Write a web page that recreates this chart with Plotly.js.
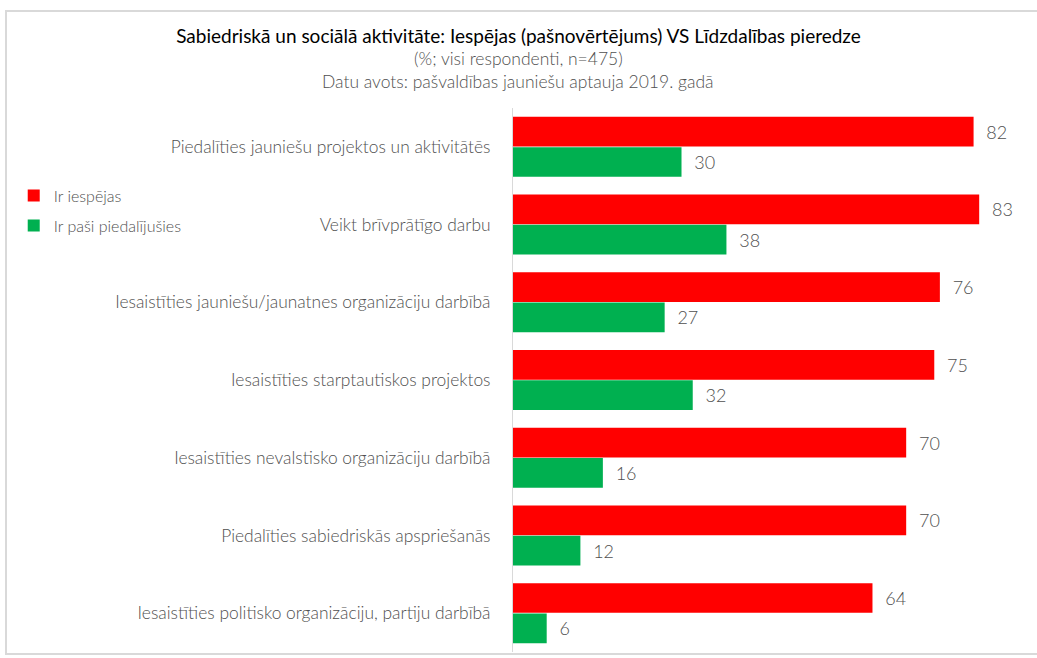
<!DOCTYPE html>
<html>
<head>
<meta charset="utf-8">
<script src="https://cdn.plot.ly/plotly-3.0.1.min.js"></script>
<style>
html,body{margin:0;padding:0;background:#fff;}
#frame{position:absolute;left:5px;top:10px;width:1040px;height:641px;border:2px solid #d9d9d9;box-sizing:content-box;pointer-events:none;z-index:10;}
#chart{position:absolute;left:0;top:0;width:1037px;height:658px;}
</style>
</head>
<body>
<div id="chart"></div>
<div id="frame"></div>
<script>
const categories = [
  "Piedalīties jauniešu projektos un aktivitātēs",
  "Veikt brīvprātīgo darbu",
  "Iesaistīties jauniešu/jaunatnes organizāciju darbībā",
  "Iesaistīties starptautiskos projektos",
  "Iesaistīties nevalstisko organizāciju darbībā",
  "Piedalīties sabiedriskās apspriešanās",
  "Iesaistīties politisko organizāciju, partiju darbībā"
];
const seriesNames = ["Ir iespējas", "Ir paši piedalījušies"];
const irIespejas = [82, 83, 76, 75, 70, 70, 64];
const irPasiPiedalijusies = [30, 38, 27, 32, 16, 12, 6];

const font = "Lato, 'Open Sans', sans-serif";
const txt = '#505050';
const traces = [
  {type:'bar', orientation:'h', name:seriesNames[0], legendgroup:'a', y:categories, x:irIespejas,
   marker:{color:'#FF0000'}, text:irIespejas, texttemplate:'  %{x}', textposition:'outside',
   cliponaxis:false, textfont:{family:font, size:18, color:txt, weight:300}, hoverinfo:'x+y'},
  {type:'bar', orientation:'h', name:seriesNames[1], legendgroup:'b', y:categories, x:irPasiPiedalijusies,
   marker:{color:'#00B050'}, text:irPasiPiedalijusies, texttemplate:'  %{x}', textposition:'outside',
   cliponaxis:false, textfont:{family:font, size:18, color:txt, weight:300}, hoverinfo:'x+y'}
];

const layout = {
  width:1037, height:658,
  margin:{l:513, r:5, t:108, b:6},
  paper_bgcolor:'#fff', plot_bgcolor:'#fff',
  font:{family:font, color:txt, size:17, weight:300},
  barmode:'group', bargap:0.22, bargroupgap:0.02,
  title:{text:'Sabiedriskā un sociālā aktivitāte: Iespējas (pašnovērtējums) VS Līdzdalības pieredze',
    x:0.5, xanchor:'center', xref:'container', y:1-36/658, yanchor:'middle', yref:'container',
    font:{family:font, size:19, color:'#000', weight:400}},
  xaxis:{range:[0,92.4], showgrid:false, zeroline:false, showticklabels:false, showline:false, ticks:''},
  yaxis:{autorange:'reversed', showgrid:false, zeroline:false, showline:true, linecolor:'#d9d9d9', linewidth:1,
    ticks:'', ticklabelstandoff:18, tickfont:{family:font, size:17.4, color:txt, weight:300}},
  showlegend:true,
  legend:{x:-0.962, xanchor:'left', y:0.87, yanchor:'top', bgcolor:'rgba(0,0,0,0)',
    font:{family:font, size:16, color:txt, weight:300}, traceorder:'grouped', itemwidth:30, tracegroupgap:6},
  annotations:[
    {text:'(%; visi respondenti, n=475)', xref:'paper', yref:'paper', x:(518-513)/519, y:(652-58)/544,
     xanchor:'center', yanchor:'middle', showarrow:false, font:{family:font, size:17.5, color:txt, weight:300}},
    {text:'Datu avots: pašvaldības jauniešu aptauja 2019. gadā', xref:'paper', yref:'paper', x:(518-513)/519, y:(652-82)/544,
     xanchor:'center', yanchor:'middle', showarrow:false, font:{family:font, size:17.5, color:txt, weight:300}}
  ]
};
Plotly.newPlot('chart', traces, layout, {displayModeBar:false, staticPlot:true});
</script>
</body>
</html>
